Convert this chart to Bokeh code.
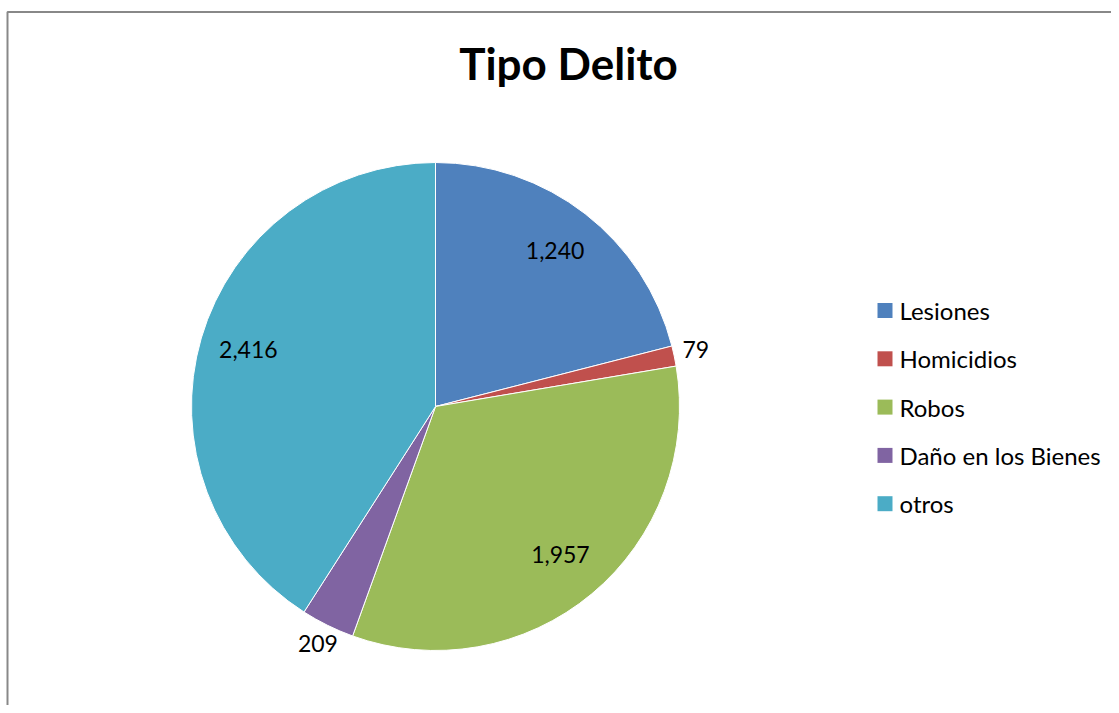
import math
from bokeh.plotting import figure
from bokeh.models import Range1d, ColumnDataSource
from bokeh.core.properties import value
from bokeh.embed import file_html
from bokeh.resources import INLINE

# ---- data ----
categories = ["Lesiones", "Homicidios", "Robos", "Daño en los Bienes", "otros"]
counts = [1240, 79, 1957, 209, 2416]
labels = ["1,240", "79", "1,957", "209", "2,416"]
colors = ["#4F81BD", "#C0504D", "#9BBB59", "#8064A2", "#4BACC6"]
title_text = "Tipo Delito"

W, H = 1111, 705
FONT = "Lato"

p = figure(width=W, height=H, output_backend="svg", toolbar_location=None,
           x_range=Range1d(0, W), y_range=Range1d(0, H),
           min_border=0, min_border_left=0, min_border_right=0,
           min_border_top=0, min_border_bottom=0)
p.axis.visible = False
p.grid.visible = False
p.outline_line_color = None
p.background_fill_color = "white"
p.border_fill_color = "white"

def Y(py):
    return H - py

# chart frame (left and top edges visible)
p.line([7, 7, 1200], [Y(800), Y(11.5), Y(11.5)], line_color="#888888", line_width=2)

# pie
cx, cy, R = 435, Y(406), 244
total = float(sum(counts))
starts, ends, mids = [], [], []
cum = 0.0
for c in counts:
    f0 = cum / total
    cum += c
    f1 = cum / total
    starts.append(math.pi / 2 - 2 * math.pi * f0)
    ends.append(math.pi / 2 - 2 * math.pi * f1)
    mids.append(math.pi / 2 - 2 * math.pi * (f0 + f1) / 2)

src = ColumnDataSource(dict(start=starts, end=ends, color=colors, cat=categories))
p.wedge(x=cx, y=cy, radius=R, start_angle="start", end_angle="end",
        direction="clock", fill_color="color", line_color="white", line_width=1,
        source=src)

# data labels
lx, ly = [], []
for c, a in zip(counts, mids):
    rr = 266 if c / total < 0.05 else 195
    lx.append(cx + rr * math.cos(a))
    ly.append(cy + rr * math.sin(a) + 2)
p.text(x=lx, y=ly, text=labels, text_font=value(FONT), text_font_size="23px",
       text_color="black", text_align="center", text_baseline="middle")

# title
p.text(x=[568], y=[Y(62)], text=[title_text], text_font=value(FONT),
       text_font_size="44px", text_font_style="bold", text_color="black",
       text_align="center", text_baseline="middle")

# legend
ys = [Y(310 + 48.3 * i) for i in range(len(categories))]
p.scatter(x=[884.5] * len(categories), y=ys, marker="square", size=15,
          fill_color=colors, line_color=None)
p.text(x=[899] * len(categories), y=ys, text=categories, text_font=value(FONT),
       text_font_size="24px", text_color="black", text_align="left",
       text_baseline="middle")

open("out.html", "w").write(file_html(p, INLINE))
